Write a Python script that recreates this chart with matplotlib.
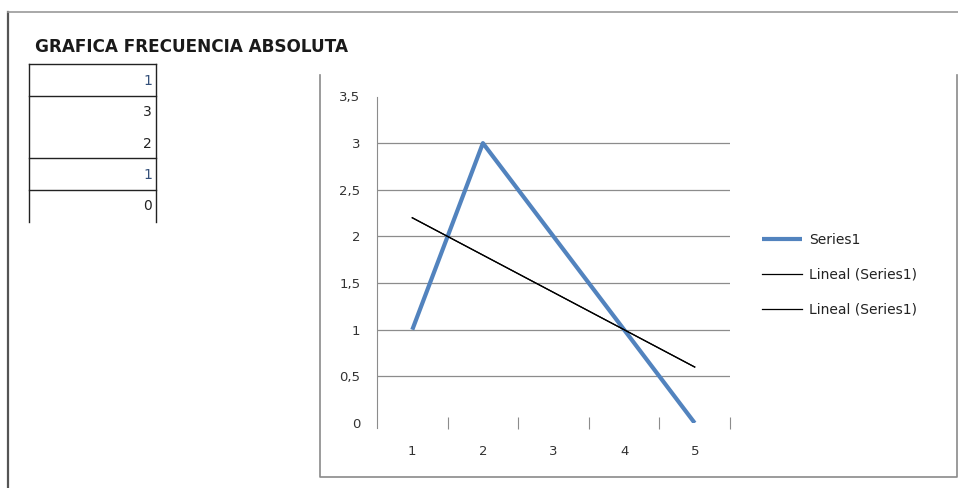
import matplotlib
matplotlib.use("Agg")
import matplotlib.pyplot as plt
from matplotlib.ticker import FixedLocator, FuncFormatter

# frequency table and series
categories = [1, 2, 3, 4, 5]
frecuencia = [1, 3, 2, 1, 0]
table_values = ["1", "3", "2", "1", "0"]
title = "GRAFICA FRECUENCIA ABSOLUTA"
y_ticks = [0, 0.5, 1, 1.5, 2, 2.5, 3, 3.5]

W, H = 958, 488


def linear_fit(xs, ys):
    n = len(xs)
    mx = sum(xs) / n
    my = sum(ys) / n
    slope = sum((x - mx) * (y - my) for x, y in zip(xs, ys)) / sum((x - mx) ** 2 for x in xs)
    return slope, my - slope * mx


fig = plt.figure(figsize=(W / 100, H / 100), dpi=100)
fig.patch.set_facecolor("white")

# sheet background drawn in pixel units
bg = fig.add_axes([0, 0, 1, 1])
bg.set_xlim(0, W)
bg.set_ylim(H, 0)
bg.axis("off")

# outer frame
bg.plot([8, 8], [12, H], color="#555555", lw=1.6)
bg.plot([8, W], [12, 12], color="#9a9a9a", lw=1.2)

# chart area border
bg.plot([320, 320, 957, 957], [75, 477, 477, 75], color="#8a8a8a", lw=1.2)

# title and table
bg.text(35, 47, title, fontsize=12.2, fontweight="bold", family="DejaVu Sans",
        color="#1a1a1a", va="center", ha="left")
row_colors = ["#34507a", "#222222", "#222222", "#34507a", "#222222"]
for i, val in enumerate(table_values):
    bg.text(152, 81 + 31.25 * i, val, fontsize=10, family="DejaVu Sans",
            color=row_colors[i], ha="right", va="center")
for yy in [64, 96, 158, 190]:
    bg.plot([29, 156], [yy, yy], color="#222222", lw=1.0)
bg.plot([29, 29], [64, 222], color="#222222", lw=1.0)
bg.plot([156, 156], [64, 222], color="#222222", lw=1.0)

# chart
left, right = 377 / W, 730 / W
bottom, top = 1 - 423 / H, 1 - 96.5 / H
ax = fig.add_axes([left, bottom, right - left, top - bottom])
ax.set_facecolor("none")

ax.set_xlim(0.5, 5.5)
ax.set_ylim(0, 3.5)

for g in y_ticks[1:-1]:
    ax.axhline(g, color="#8c8c8c", lw=0.9, zorder=1)

series, = ax.plot(categories, frecuencia, color="#5283be", lw=3, zorder=3,
                  solid_capstyle="butt", label="Series1")

slope, intercept = linear_fit(categories, frecuencia)
trend = [slope * x + intercept for x in categories]
t1, = ax.plot(categories, trend, color="black", lw=0.9, zorder=4, label="Lineal (Series1)")
t2, = ax.plot(categories, trend, color="black", lw=0.9, zorder=4, label="Lineal (Series1)")

for side in ["top", "right", "bottom"]:
    ax.spines[side].set_visible(False)
ax.spines["left"].set_color("#8c8c8c")
ax.spines["left"].set_bounds(-0.05, 3.5)

ax.set_yticks(y_ticks)
ax.yaxis.set_major_formatter(FuncFormatter(lambda v, p: f"{v:g}".replace(".", ",")))
ax.tick_params(axis="y", length=0, pad=12, labelsize=9.5, labelcolor="#333333")

ax.set_xticks(categories)
ax.set_xticklabels([str(c) for c in categories])
ax.xaxis.set_minor_locator(FixedLocator([1.5, 2.5, 3.5, 4.5, 5.5]))
ax.tick_params(axis="x", which="major", length=0, pad=16, labelsize=9.5, labelcolor="#333333")
ax.tick_params(axis="x", which="minor", length=9, direction="inout", color="#8c8c8c", width=0.8)

fig.legend(handles=[series, t1, t2], loc="center left",
           bbox_to_anchor=(749 / W, 1 - 275 / H), frameon=False,
           fontsize=10, labelspacing=1.5, handlelength=2.9, handletextpad=0.55,
           labelcolor="#222222")

fig.savefig("out.png", dpi=100, facecolor="white")
